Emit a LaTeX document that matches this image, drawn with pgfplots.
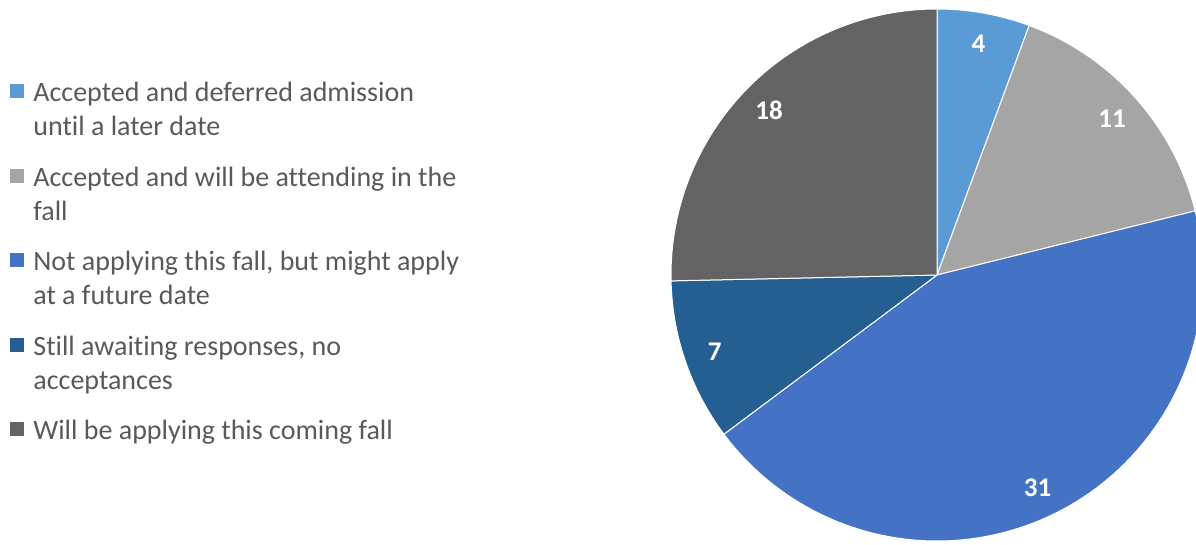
\documentclass[border=0pt]{standalone}
\usepackage{fontspec}
\setmainfont{Carlito}[Ligatures=NoCommon]
\usepackage{pgfplots}
\usepackage{pgfplotstable}
\pgfplotsset{compat=1.18}

\definecolor{c1}{HTML}{5B9BD5}
\definecolor{c2}{HTML}{A5A5A5}
\definecolor{c3}{HTML}{4472C4}
\definecolor{c4}{HTML}{255E91}
\definecolor{c5}{HTML}{636363}
\definecolor{legtext}{HTML}{595959}

% one row per slice, in clockwise order from 12 o'clock
\pgfplotstableread[col sep=semicolon]{
value;color;lineA;lineB
4;c1;Accepted and deferred admission;until a later date
11;c2;Accepted and will be attending in the;fall
31;c3;Not applying this fall, but might apply;at a future date
7;c4;Still awaiting responses, no;acceptances
18;c5;Will be applying this coming fall;
}\piedata

% angles from the table, worked out before the axis
\pgfplotstablegetrowsof{\piedata}
\pgfmathtruncatemacro{\lastrow}{\pgfplotsretval-1}
\gdef\pietotal{0}
\foreach \i in {0,...,\lastrow}{
  \pgfplotstablegetelem{\i}{value}\of\piedata
  \pgfmathparse{\pietotal+\pgfplotsretval}\xdef\pietotal{\pgfmathresult}
}
\gdef\piecum{0}
\foreach \i in {0,...,\lastrow}{
  \pgfplotstablegetelem{\i}{value}\of\piedata \let\sliceval\pgfplotsretval
  \expandafter\xdef\csname pieV\i\endcsname{\sliceval}
  \pgfplotstablegetelem{\i}{color}\of\piedata
  \expandafter\xdef\csname pieC\i\endcsname{\pgfplotsretval}
  \pgfplotstablegetelem{\i}{lineA}\of\piedata
  \expandafter\xdef\csname pieL\i\endcsname{\pgfplotsretval}
  \pgfplotstablegetelem{\i}{lineB}\of\piedata
  \expandafter\xdef\csname pieM\i\endcsname{\pgfplotsretval}
  \pgfmathsetmacro{\angfrom}{90-\piecum/\pietotal*360}
  \pgfmathsetmacro{\angto}{90-(\piecum+\sliceval)/\pietotal*360}
  \pgfmathsetmacro{\angmid}{(\angfrom+\angto)/2}
  \pgfmathsetmacro{\ybase}{545-101.5-84.6*\i}
  \expandafter\xdef\csname pieA\i\endcsname{\angfrom}
  \expandafter\xdef\csname pieB\i\endcsname{\angto}
  \expandafter\xdef\csname pieMid\i\endcsname{\angmid}
  \expandafter\xdef\csname pieY\i\endcsname{\ybase}
  \pgfmathparse{\piecum+\sliceval}\xdef\piecum{\pgfmathresult}
}

\begin{document}
\begin{tikzpicture}
\begin{axis}[
    width=598pt, height=272.5pt,
    scale only axis,
    xmin=0, xmax=1196, ymin=0, ymax=545,
    hide axis,
]
\coordinate (SW) at (axis cs:0,0);
\coordinate (NE) at (axis cs:1196,545);
\pgfplotsinvokeforeach{0,...,4}{
  \fill[\csname pieC#1\endcsname, draw=white, line width=0.5pt]
    (axis cs:937,270) -- ++(\csname pieA#1\endcsname:133pt)
    arc[start angle=\csname pieA#1\endcsname, end angle=\csname pieB#1\endcsname, radius=133pt] -- cycle;
  \path (axis cs:937,270) ++(\csname pieMid#1\endcsname:117.5pt)
    node[white, inner sep=0pt, font=\bfseries\fontsize{13.5}{16}\selectfont] {\csname pieV#1\endcsname};
  % legend entry
  \fill[\csname pieC#1\endcsname] (axis cs:10,\csname pieY#1\endcsname+3.5)
    rectangle (axis cs:24,\csname pieY#1\endcsname+17.5);
  \node[anchor=base west, inner sep=0pt, text=legtext, font=\fontsize{14}{17}\selectfont]
    at (axis cs:33,\csname pieY#1\endcsname) {\csname pieL#1\endcsname};
  \node[anchor=base west, inner sep=0pt, text=legtext, font=\fontsize{14}{17}\selectfont]
    at (axis cs:33,\csname pieY#1\endcsname-34) {\csname pieM#1\endcsname};
}
\end{axis}
\pgfresetboundingbox
\useasboundingbox (SW) rectangle (NE);
\end{tikzpicture}
\end{document}
